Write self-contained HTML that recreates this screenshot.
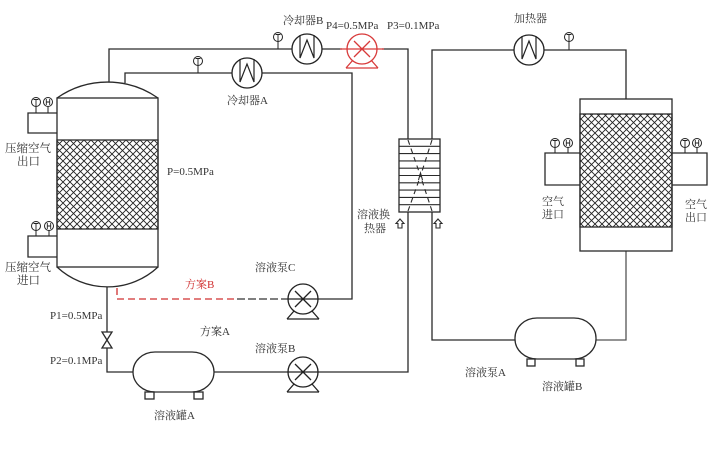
<!DOCTYPE html>
<html><head><meta charset="utf-8"><style>
html,body{margin:0;padding:0;background:#fff;}
svg{display:block;}
text{font-family:"Liberation Serif","Noto Serif CJK SC",serif;font-size:11px;fill:#333;}
</style></head><body>
<svg width="715" height="449" viewBox="0 0 715 449" xmlns="http://www.w3.org/2000/svg">
<defs>
<pattern id="hx" width="7" height="7" patternUnits="userSpaceOnUse">
<rect width="7" height="7" fill="#fff"/>
<path d="M0,0 L7,7 M7,0 L0,7" stroke="#222" stroke-width="0.9"/>
</pattern>
</defs>
<g fill="none" stroke="#2a2a2a" stroke-width="1.3">
<!-- left tower -->
<rect x="57" y="140" width="101" height="89" fill="url(#hx)"/>
<rect x="57" y="98" width="101" height="169"/>
<path d="M57,98 A88,88 0 0 1 158,98"/>
<path d="M57,267 A74,74 0 0 0 158,267"/>
<!-- side boxes left tower -->
<path d="M57,113 L28,113 L28,133 L57,133"/>
<path d="M57,236 L28,236 L28,257 L57,257"/>
<!-- outer top pipe -->
<path d="M109,82 L109,49 L292,49"/>
<path d="M322,49 L342,49"/>
<path d="M382,49 L408,49 L408,139"/>
<!-- inner top pipe -->
<path d="M125,83 L125,73 L232,73"/>
<path d="M262,73 L352,73 L352,299 L318,299"/>
<!-- outlet pipe -->
<path d="M107,287 L107,332"/>
<path d="M107,348 L107,372 L133,372"/>
<path d="M214,372 L288,372"/>
<path d="M318,372 L408,372 L408,212"/>
<!-- right loops -->
<path d="M432,139 L432,50 L514,50"/>
<path d="M544,50 L626,50 L626,99"/>
<path d="M432,212 L432,340 L515,340"/>
<path d="M596,340 L626,340 L626,251" stroke="#555"/>
<!-- right tower -->
<rect x="580" y="114" width="92" height="113" fill="url(#hx)"/>
<rect x="580" y="99" width="92" height="152"/>
<path d="M580,153 L545,153 L545,185 L580,185"/>
<path d="M672,153 L707,153 L707,185 L672,185"/>
<!-- heat exchanger -->
<rect x="399" y="139" width="41" height="73" fill="#fff"/>
<path d="M399,146.3 H440 M399,153.6 H440 M399,160.9 H440 M399,168.2 H440 M399,175.5 H440 M399,182.8 H440 M399,190.1 H440 M399,197.4 H440 M399,204.7 H440" stroke-width="1.1"/>
<path d="M408,140 L420.5,176 M432,140 L420.5,176 M408,211 L420.5,176 M432,211 L420.5,176" stroke-dasharray="5,4" stroke-width="1.1"/>
<path d="M418.5,180 L420.5,173 L422.5,180" stroke-width="1.1"/>
<!-- up arrows -->
<path d="M400,219 L404,223.5 L402,223.5 L402,228 L398,228 L398,223.5 L396,223.5 Z" stroke-width="1.1"/>
<path d="M438,219 L442,223.5 L440,223.5 L440,228 L436,228 L436,223.5 L434,223.5 Z" stroke-width="1.1"/>
<!-- tanks -->
<rect x="133" y="352" width="81" height="40" rx="22" ry="20" fill="#fff"/>
<rect x="145" y="392" width="9" height="7"/>
<rect x="194" y="392" width="9" height="7"/>
<rect x="515" y="318" width="81" height="41" rx="22" ry="20" fill="#fff"/>
<rect x="527" y="359" width="8" height="7"/>
<rect x="576" y="359" width="8" height="7"/>
<!-- valve -->
<path d="M102,332 L112,332 L102,348 L112,348 Z"/>
</g>
<!-- red dashed scheme B -->
<path d="M117,288 L117,299 L237,299" fill="none" stroke="#d03030" stroke-width="1.3" stroke-dasharray="7,4"/>
<path d="M237,299 L288,299" fill="none" stroke="#333" stroke-width="1.3" stroke-dasharray="8,3"/>
<!-- coolers / heater -->
<g fill="#fff" stroke="#222" stroke-width="1.3">
<circle cx="307" cy="49" r="15"/>
<circle cx="247" cy="73" r="15"/>
<circle cx="529" cy="50" r="15"/>
</g>
<g fill="none" stroke="#222" stroke-width="1.2">
<path d="M300,35 L300,58 L307,40 L314,58 L314,35"/>
<path d="M240,59 L240,82 L247,64 L254,82 L254,59"/>
<path d="M522,36 L522,59 L529,41 L536,59 L536,36"/>
</g>
<!-- red pump -->
<g fill="none" stroke="#d83a3a" stroke-width="1.3">
<path d="M340,49 L384,49"/>
<path d="M346,68 L378,68 M346,68 L353,60 M378,68 L371,60"/>
<circle cx="362" cy="49" r="15" fill="#fff"/>
<path d="M347,49 L377,49 M354,41 L370,57 M370,41 L354,57"/>
</g>
<!-- black pumps -->
<g fill="none" stroke="#222" stroke-width="1.3">
<path d="M287,319 L319,319 M287,319 L294,311 M319,319 L312,311"/>
<circle cx="303" cy="299" r="15" fill="#fff"/>
<path d="M288,299 L318,299 M295,291 L311,307 M311,291 L295,307"/>
<path d="M287,392 L319,392 M287,392 L294,384 M319,392 L312,384"/>
<circle cx="303" cy="372" r="15" fill="#fff"/>
<path d="M288,372 L318,372 M295,364 L311,380 M311,364 L295,380"/>
</g>
<!-- gauges -->
<g fill="#fff" stroke="#222" stroke-width="1">
<path d="M36,106.5 V113 M48,106.5 V113 M36,230.5 V236 M49,230.5 V236 M278,41.5 V49 M198,65.5 V73 M569,41.5 V50 M555,147.5 V153 M568,147.5 V153 M685,147.5 V153 M697,147.5 V153" fill="none"/>
<circle cx="36" cy="102" r="4.5"/><circle cx="48" cy="102" r="4.5"/>
<circle cx="36" cy="226" r="4.5"/><circle cx="49" cy="226" r="4.5"/>
<circle cx="278" cy="37" r="4.5"/>
<circle cx="198" cy="61" r="4.5"/>
<circle cx="569" cy="37" r="4.5"/>
<circle cx="555" cy="143" r="4.5"/><circle cx="568" cy="143" r="4.5"/>
<circle cx="685" cy="143" r="4.5"/><circle cx="697" cy="143" r="4.5"/>
</g>
<g fill="none" stroke="#222" stroke-width="0.9">
<path d="M33.5,99.5 H38.5 M36,99.5 V106.5"/>
<path d="M46.3,99 V105 M49.7,99 V105 M46.3,102 H49.7"/>
<path d="M33.5,223.5 H38.5 M36,223.5 V230.5"/>
<path d="M47.3,223 V229 M50.7,223 V229 M47.3,226 H50.7"/>
<path d="M275.5,34.5 H280.5 M278,34.5 V41.5"/>
<path d="M195.5,58.5 H200.5 M198,58.5 V65.5"/>
<path d="M566.5,34.5 H571.5 M569,34.5 V41.5"/>
<path d="M552.5,140.5 H557.5 M555,140.5 V147.5"/>
<path d="M566.3,140 V146 M569.7,140 V146 M566.3,143 H569.7"/>
<path d="M682.5,140.5 H687.5 M685,140.5 V147.5"/>
<path d="M695.3,140 V146 M698.7,140 V146 M695.3,143 H698.7"/>
</g>
<!-- labels -->
<text x="283" y="24">冷却器B</text>
<text x="326" y="29">P4=0.5MPa</text>
<text x="387" y="29">P3=0.1MPa</text>
<text x="514" y="22">加热器</text>
<text x="227" y="104">冷却器A</text>
<text x="5" y="152" style="font-size:11.5px">压缩空气</text>
<text x="17" y="165" style="font-size:11.5px">出口</text>
<text x="167" y="175">P=0.5MPa</text>
<text x="5" y="271" style="font-size:11.5px">压缩空气</text>
<text x="17" y="284" style="font-size:11.5px">进口</text>
<text x="185" y="288" style="fill:#d03030">方案B</text>
<text x="255" y="271">溶液泵C</text>
<text x="50" y="319">P1=0.5MPa</text>
<text x="200" y="335">方案A</text>
<text x="255" y="352">溶液泵B</text>
<text x="50" y="364">P2=0.1MPa</text>
<text x="154" y="419">溶液罐A</text>
<text x="357" y="218">溶液换</text>
<text x="364" y="232">热器</text>
<text x="542" y="205">空气</text>
<text x="542" y="218">进口</text>
<text x="685" y="208">空气</text>
<text x="685" y="221">出口</text>
<text x="465" y="376">溶液泵A</text>
<text x="542" y="390">溶液罐B</text>
</svg>
</body></html>
